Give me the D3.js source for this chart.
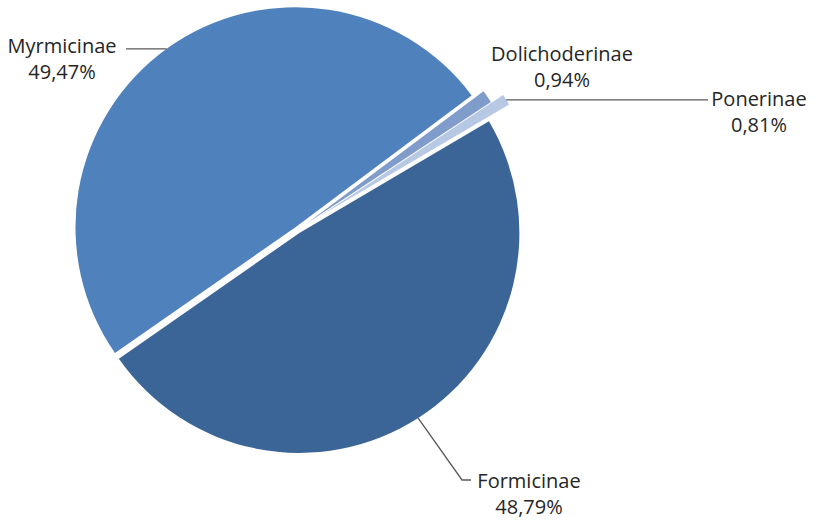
<!DOCTYPE html>
<html>
<head>
<meta charset="utf-8">
<script src="https://cdn.jsdelivr.net/npm/d3@7"></script>
<style>
  body { margin: 0; background: #fff; }
  text { font-family: "Open Sans", "DejaVu Sans", sans-serif; fill: #262626; }
</style>
</head>
<body>
<div id="chart"></div>
<script>
var subfamilies = ["Formicinae", "Myrmicinae", "Dolichoderinae", "Ponerinae"];
var shares = [48.79, 49.47, 0.94, 0.81];
var shareLabels = ["48,79%", "49,47%", "0,94%", "0,81%"];

var colors = ["#3c6597", "#4f81bd", "#7f9ccb", "#b7c8e5"];
var explode = [3.5, 3.5, 12, 26];
// label anchor: centre x, baseline of the name line
var labelPos = [[529, 488], [62, 53], [562, 61], [759, 106]];

var width = 818, height = 522,
    cx = 297.5, cy = 230, radius = 220,
    startDeg = 59.5;

var svg = d3.select("#chart")
  .append("svg")
    .attr("width", width)
    .attr("height", height);

var data = subfamilies.map(function(name, i) {
  return { name: name, value: shares[i], label: shareLabels[i], i: i };
});

var pie = d3.pie()
  .sort(null)
  .value(function(d) { return d.value; })
  .startAngle(startDeg * Math.PI / 180)
  .endAngle(startDeg * Math.PI / 180 + 2 * Math.PI);

var arc = d3.arc().innerRadius(0).outerRadius(radius);
var arcs = pie(data);

function mid(d) { return (d.startAngle + d.endAngle) / 2; }
function offset(d) {
  var a = mid(d), e = explode[d.data.i];
  return [cx + e * Math.sin(a), cy - e * Math.cos(a)];
}
function edgePoint(d) {
  var a = mid(d), c = offset(d);
  return [c[0] + radius * Math.sin(a), c[1] - radius * Math.cos(a)];
}

svg.selectAll("path.slice")
  .data(arcs)
  .enter().append("path")
    .attr("class", "slice")
    .attr("transform", function(d) { return "translate(" + offset(d) + ")"; })
    .attr("fill", function(d) { return colors[d.data.i]; })
    .attr("d", arc);

// leader lines
var line = d3.line();
var leaders = [
  function(p) { return [p, [462, 480], [471, 480]]; },
  function(p) { return [p, [126, p[1]]]; },
  null,
  function(p) { return [p, [708, p[1]]]; }
];
arcs.forEach(function(d) {
  var f = leaders[d.data.i];
  if (!f) return;
  svg.append("path")
    .attr("fill", "none")
    .attr("stroke", "#595959")
    .attr("stroke-width", 1.3)
    .attr("d", line(f(edgePoint(d))));
});

var labels = svg.selectAll("g.lbl")
  .data(data)
  .enter().append("g")
    .attr("class", "lbl")
    .attr("transform", function(d) { return "translate(" + labelPos[d.i] + ")"; });

labels.append("text")
  .attr("text-anchor", "middle")
  .style("font-size", "20px")
  .text(function(d) { return d.name; });

labels.append("text")
  .attr("text-anchor", "middle")
  .attr("y", 26)
  .style("font-size", "20px")
  .text(function(d) { return d.label; });
</script>
</body>
</html>
